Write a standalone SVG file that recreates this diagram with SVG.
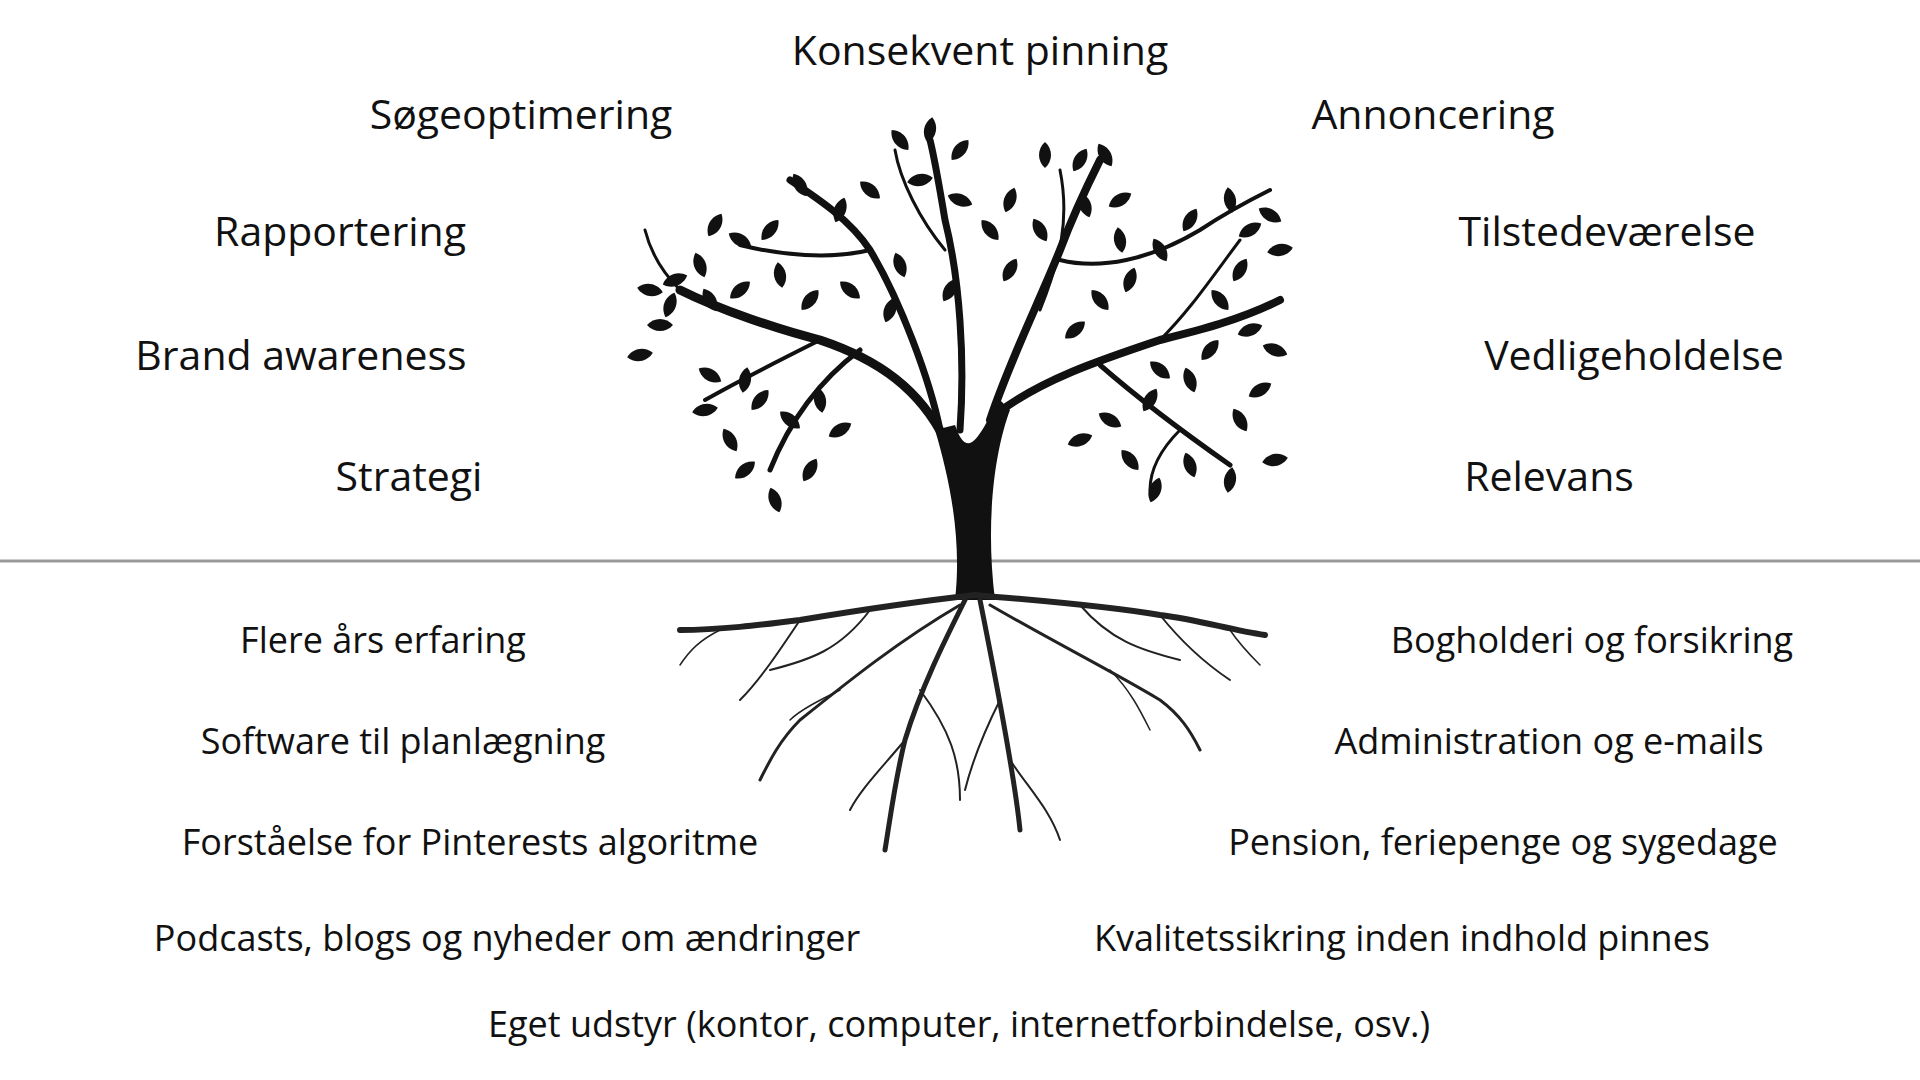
<svg xmlns="http://www.w3.org/2000/svg" xmlns:xlink="http://www.w3.org/1999/xlink" width="1920" height="1080" viewBox="0 0 1920 1080">
<style>
.t{font-family:"Open Sans","Noto Sans",sans-serif;fill:#111;text-anchor:middle}
.u{font-size:41px}.l{font-size:36px}
.br{fill:none;stroke:#111;stroke-linecap:round}
.rt{fill:none;stroke:#222;stroke-linecap:round}
</style>
<defs>
<path id="leaf" d="M0,-13 C8,-6 8,6 0,13 C-8,6 -8,-6 0,-13Z" fill="#111"/>
</defs>
<rect width="1920" height="1080" fill="#fff"/>
<line x1="0" y1="561" x2="1920" y2="561" stroke="#999" stroke-width="3"/>
<g id="tree">
<path d="M955,600 C962,540 950,480 935,430 L955,425 C970,470 985,420 1000,400 L1010,410 C995,450 985,520 995,600 Z" fill="#111"/>
<g class="br">
<path stroke-width="9" d="M945,440 C920,390 880,360 820,340 C780,330 720,310 680,290"/>
<path stroke-width="7" d="M940,430 C930,380 900,300 870,250 C850,220 820,200 790,180"/>
<path stroke-width="7" d="M960,430 C965,360 960,280 945,220 C940,190 935,160 930,140"/>
<path stroke-width="8" d="M990,420 C1010,360 1040,300 1060,250 C1075,210 1090,180 1100,160"/>
<path stroke-width="8" d="M995,415 C1040,380 1100,360 1160,340 C1200,330 1240,320 1280,300"/>
<path stroke-width="5" d="M1100,365 C1140,400 1180,430 1230,465"/>
<path stroke-width="5" d="M860,350 C820,380 790,420 770,470"/>
<path stroke-width="4" d="M820,340 C780,360 740,380 705,400"/>
<path stroke-width="4" d="M870,250 C830,260 780,255 740,245"/>
<path stroke-width="4" d="M1060,260 C1100,270 1150,260 1200,230 C1230,210 1250,200 1270,190"/>
<path stroke-width="3" d="M945,250 C920,220 900,180 895,150"/>
<path stroke-width="3" d="M1040,310 C1060,260 1070,220 1060,170"/>
<path stroke-width="3" d="M1160,340 C1190,310 1210,280 1240,240"/>
<path stroke-width="3" d="M680,290 C660,270 650,250 645,230"/>
<path stroke-width="3" d="M1180,430 C1160,450 1150,470 1150,490"/>
</g>
<g>
<use href="#leaf" transform="translate(900,140) rotate(-40)"/><use href="#leaf" transform="translate(930,130) rotate(10)"/><use href="#leaf" transform="translate(960,150) rotate(40)"/>
<use href="#leaf" transform="translate(1045,155) rotate(0)"/><use href="#leaf" transform="translate(1080,160) rotate(30)"/><use href="#leaf" transform="translate(1105,155) rotate(-30)"/>
<use href="#leaf" transform="translate(1120,200) rotate(60)"/><use href="#leaf" transform="translate(1085,205) rotate(-20)"/><use href="#leaf" transform="translate(1010,200) rotate(20)"/>
<use href="#leaf" transform="translate(990,230) rotate(-40)"/><use href="#leaf" transform="translate(960,200) rotate(-70)"/><use href="#leaf" transform="translate(920,180) rotate(80)"/>
<use href="#leaf" transform="translate(870,190) rotate(-50)"/><use href="#leaf" transform="translate(840,210) rotate(20)"/><use href="#leaf" transform="translate(800,185) rotate(-30)"/>
<use href="#leaf" transform="translate(770,230) rotate(40)"/><use href="#leaf" transform="translate(740,240) rotate(-60)"/><use href="#leaf" transform="translate(715,225) rotate(30)"/>
<use href="#leaf" transform="translate(700,265) rotate(-20)"/><use href="#leaf" transform="translate(675,280) rotate(70)"/><use href="#leaf" transform="translate(650,290) rotate(-80)"/>
<use href="#leaf" transform="translate(660,325) rotate(90)"/><use href="#leaf" transform="translate(640,355) rotate(80)"/><use href="#leaf" transform="translate(670,305) rotate(20)"/>
<use href="#leaf" transform="translate(710,300) rotate(-30)"/><use href="#leaf" transform="translate(740,290) rotate(50)"/><use href="#leaf" transform="translate(780,275) rotate(-10)"/>
<use href="#leaf" transform="translate(810,300) rotate(40)"/><use href="#leaf" transform="translate(850,290) rotate(-50)"/><use href="#leaf" transform="translate(890,310) rotate(20)"/>
<use href="#leaf" transform="translate(900,265) rotate(-20)"/><use href="#leaf" transform="translate(1010,270) rotate(30)"/><use href="#leaf" transform="translate(1100,300) rotate(-40)"/>
<use href="#leaf" transform="translate(1130,280) rotate(20)"/><use href="#leaf" transform="translate(1160,250) rotate(-30)"/><use href="#leaf" transform="translate(1190,220) rotate(30)"/>
<use href="#leaf" transform="translate(1230,200) rotate(-10)"/><use href="#leaf" transform="translate(1250,230) rotate(60)"/><use href="#leaf" transform="translate(1270,215) rotate(-60)"/>
<use href="#leaf" transform="translate(1280,250) rotate(80)"/><use href="#leaf" transform="translate(1240,270) rotate(30)"/><use href="#leaf" transform="translate(1220,300) rotate(-40)"/>
<use href="#leaf" transform="translate(1250,330) rotate(70)"/><use href="#leaf" transform="translate(1275,350) rotate(-70)"/><use href="#leaf" transform="translate(1260,390) rotate(60)"/>
<use href="#leaf" transform="translate(1240,420) rotate(-30)"/><use href="#leaf" transform="translate(1275,460) rotate(80)"/><use href="#leaf" transform="translate(1230,480) rotate(10)"/>
<use href="#leaf" transform="translate(1190,465) rotate(-20)"/><use href="#leaf" transform="translate(1155,490) rotate(20)"/><use href="#leaf" transform="translate(1130,460) rotate(-40)"/>
<use href="#leaf" transform="translate(1150,400) rotate(30)"/><use href="#leaf" transform="translate(1110,420) rotate(-60)"/><use href="#leaf" transform="translate(1080,440) rotate(70)"/>
<use href="#leaf" transform="translate(1190,380) rotate(-20)"/><use href="#leaf" transform="translate(1210,350) rotate(40)"/><use href="#leaf" transform="translate(1160,370) rotate(-50)"/>
<use href="#leaf" transform="translate(705,410) rotate(80)"/><use href="#leaf" transform="translate(730,440) rotate(-30)"/><use href="#leaf" transform="translate(745,470) rotate(50)"/>
<use href="#leaf" transform="translate(775,500) rotate(-20)"/><use href="#leaf" transform="translate(810,470) rotate(30)"/><use href="#leaf" transform="translate(790,420) rotate(-50)"/>
<use href="#leaf" transform="translate(760,400) rotate(40)"/><use href="#leaf" transform="translate(820,400) rotate(-10)"/><use href="#leaf" transform="translate(840,430) rotate(60)"/>
<use href="#leaf" transform="translate(710,375) rotate(-60)"/><use href="#leaf" transform="translate(745,380) rotate(10)"/><use href="#leaf" transform="translate(950,290) rotate(30)"/>
<use href="#leaf" transform="translate(1040,230) rotate(-30)"/><use href="#leaf" transform="translate(1075,330) rotate(50)"/><use href="#leaf" transform="translate(1120,240) rotate(-10)"/>
</g>
<g class="rt">
<path stroke-width="6" d="M975,595 C930,600 860,610 800,620 C760,625 720,630 680,630"/>
<path stroke-width="6" d="M975,595 C1030,600 1100,605 1160,615 C1200,620 1230,630 1265,635"/>
<path stroke-width="5" d="M965,600 C945,640 920,690 905,740 C895,780 890,820 885,850"/>
<path stroke-width="5" d="M980,600 C990,650 1000,700 1010,760 C1015,790 1018,810 1020,830"/>
<path stroke-width="3" d="M960,605 C900,640 850,680 800,720 C780,740 770,760 760,780"/>
<path stroke-width="3" d="M990,605 C1050,640 1110,670 1160,700 C1180,715 1190,730 1200,750"/>
<path stroke-width="2" d="M800,620 C780,650 760,680 740,700"/>
<path stroke-width="2" d="M1160,615 C1180,640 1200,660 1230,680"/>
<path stroke-width="2" d="M870,610 C840,650 810,660 770,670"/>
<path stroke-width="2" d="M1080,605 C1110,640 1140,650 1180,660"/>
<path stroke-width="2" d="M920,690 C950,730 960,760 960,800"/>
<path stroke-width="2" d="M1000,700 C980,740 970,770 965,790"/>
<path stroke-width="2" d="M1010,760 C1030,790 1050,810 1060,840"/>
<path stroke-width="2" d="M905,740 C880,770 860,790 850,810"/>
<path stroke-width="1.5" d="M720,630 C700,640 690,650 680,665"/>
<path stroke-width="1.5" d="M1230,630 C1240,645 1250,655 1260,665"/>
<path stroke-width="1.5" d="M840,690 C820,700 800,710 790,720"/>
<path stroke-width="1.5" d="M1110,670 C1130,690 1140,710 1150,730"/>
</g>
</g>
<g id="labels">
<text class="t u" x="980" y="65">Konsekvent pinning</text>
<text class="t u" x="521" y="129">Søgeoptimering</text>
<text class="t u" x="1433" y="129">Annoncering</text>
<text class="t u" x="340" y="246">Rapportering</text>
<text class="t u" x="1607" y="246">Tilstedeværelse</text>
<text class="t u" x="301" y="370">Brand awareness</text>
<text class="t u" x="1634" y="370">Vedligeholdelse</text>
<text class="t u" x="409" y="491">Strategi</text>
<text class="t u" x="1549" y="491">Relevans</text>
<text class="t l" x="383" y="653">Flere års erfaring</text>
<text class="t l" x="1592" y="653">Bogholderi og forsikring</text>
<text class="t l" x="403" y="754">Software til planlægning</text>
<text class="t l" x="1549" y="754">Administration og e-mails</text>
<text class="t l" x="470" y="855">Forståelse for Pinterests algoritme</text>
<text class="t l" x="1503" y="855">Pension, feriepenge og sygedage</text>
<text class="t l" x="507" y="951">Podcasts, blogs og nyheder om ændringer</text>
<text class="t l" x="1402" y="951">Kvalitetssikring inden indhold pinnes</text>
<text class="t l" x="959" y="1037">Eget udstyr (kontor, computer, internetforbindelse, osv.)</text>
</g>
</svg>
